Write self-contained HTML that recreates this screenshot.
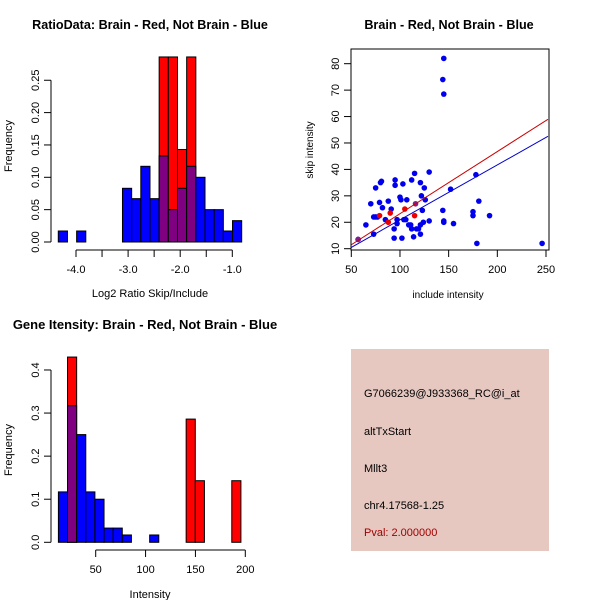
<!DOCTYPE html>
<html><head><meta charset="utf-8"><style>
body{margin:0;background:#fff}
svg{display:block;font-family:"Liberation Sans",sans-serif}
</style></head><body>
<svg id="s" width="600" height="600" xmlns="http://www.w3.org/2000/svg">
<rect x="0" y="0" width="600" height="600" fill="#fff"/>
<g id="p1"></g>
<g id="p2"></g>
<g id="p3"></g>
<g id="p4">
<rect x="351" y="349" width="198" height="202" fill="#e6c8c1"/>
<text x="364" y="397" font-size="11" fill="#000">G7066239@J933368_RC@i_at</text>
<text x="364" y="435" font-size="11" fill="#000">altTxStart</text>
<text x="364" y="472" font-size="11" fill="#000">Mllt3</text>
<text x="364" y="509" font-size="11" fill="#000">chr4.17568-1.25</text>
<text x="364" y="536" font-size="11" fill="#a00000">Pval: 2.000000</text>
</g>
</svg>
<script>
// ---- Panel 1 data ----
const ratioBinStart = -4.34;
const ratioBinWidth = 0.176;
const ratioBlue = [0.017,0,0.017,0,0,0,0,0.083,0.067,0.117,0.067,0.133,0.05,0.083,0.117,0.1,0.05,0.05,0.017,0.033];
const ratioRed  = [0,0,0,0,0,0,0,0,0,0,0,0.286,0.286,0.143,0.286,0,0,0,0,0];
const ratioXTicks = [-4,-3.5,-3,-2.5,-2,-1.5,-1];
const ratioXLabels = ["-4.0","","-3.0","","-2.0","","-1.0"];
const ratioYTicks = [0,0.05,0.10,0.15,0.20,0.25];
const ratioYLabels = ["0.00","0.05","0.10","0.15","0.20","0.25"];
// ---- Panel 2 data ----
const scatterBlueX = [145,144,145,57,65,70,73,73,75,75,77,79,80,81,82,85,88,91,94,94,95,95,97,97,100,101,102,103,104,106,107,109,111,112,112,114,115,117,119,121,121,121,122,123,124,125,126,130,130,144,145,145,152,155,175,175,178,179,181,192,246];
const scatterBlueY = [82,74,68.5,13.5,19,27,22,15.5,22,33,22,27.5,35,35.5,25.5,21,28,25,14,17.5,34,36,21,19.5,29.5,28.5,14,34.5,21,21,28.5,19,19,36,17.5,14.5,38.5,17.5,17.5,35,15.5,19,30,24.5,20,33,28.5,39,20.5,24.5,20.5,20,32.5,19.5,24,22.5,38,12,28,22.5,12];
const scatterRedX = [79,90,88,105,115,116,57];
const scatterRedY = [22.5,23.5,20,25,22.5,27,13.5];
const fitIntercepts = [-0.25,0.1]; // red, blue
const fitSlopes = [0.235,0.208];
const scatterXTicks = [50,100,150,200,250];
const scatterYTicks = [10,20,30,40,50,60,70,80];
// ---- Panel 3 data ----
const intBinStart = 12.6;
const intBinWidth = 9.15;
const intBlue = [0.117,0.317,0.25,0.117,0.1,0.033,0.033,0.017,0,0,0.017,0,0,0,0,0,0,0,0,0];
const intRed  = [0,0.43,0,0,0,0,0,0,0,0,0,0,0,0,0.286,0.143,0,0,0,0.143];
const intXTicks = [50,100,150,200];
const intYTicks = [0,0.1,0.2,0.3,0.4];
const intYLabels = ["0.0","0.1","0.2","0.3","0.4"];

const NS="http://www.w3.org/2000/svg";
function mk(parent,tag,attrs,txt){const e=document.createElementNS(NS,tag);for(const k in attrs)e.setAttribute(k,attrs[k]);if(txt!==undefined)e.textContent=txt;parent.appendChild(e);return e;}

function histogram(g, xs, ys, start, width, blue, red, name){
  for(let i=0;i<blue.length;i++){
    const b=blue[i], r=red[i];
    const x0=xs(start+i*width), x1=xs(start+(i+1)*width);
    const top=Math.max(b,r), low=Math.min(b,r);
    if(top<=0) continue;
    if(r>0 && b>0){
      let e=mk(g,'rect',{x:x0,y:ys(top),width:x1-x0,height:ys(0)-ys(top),fill:r>b?'#ff0000':'#0000ff',stroke:'#000','stroke-width':1});
      
      
      e=mk(g,'rect',{x:x0,y:ys(low),width:x1-x0,height:ys(0)-ys(low),fill:'#7f0080',stroke:'#000','stroke-width':1});
      
      
    } else {
      const e=mk(g,'rect',{x:x0,y:ys(top),width:x1-x0,height:ys(0)-ys(top),fill:r>0?'#ff0000':'#0000ff',stroke:'#000','stroke-width':1});
      
      
    }
  }
}
function yAxis(g,x,ys,ticks,labels,name){
  let e=mk(g,'line',{x1:x,x2:x,y1:ys(ticks[0]),y2:ys(ticks[ticks.length-1]),stroke:'#000'});
  
  
  ticks.forEach((t,i)=>{
    mk(g,'line',{x1:x-7,x2:x,y1:ys(t),y2:ys(t),stroke:'#000'});
    const tx=mk(g,'text',{x:x-12,y:ys(t),'font-size':11,'text-anchor':'middle',transform:`rotate(-90 ${x-12} ${ys(t)})`},labels[i]);
    
    
  });
}
function xAxis(g,y,xs,ticks,labels,name){
  let e=mk(g,'line',{x1:xs(ticks[0]),x2:xs(ticks[ticks.length-1]),y1:y,y2:y,stroke:'#000'});
  
  
  ticks.forEach((t,i)=>{
    mk(g,'line',{x1:xs(t),x2:xs(t),y1:y,y2:y+7,stroke:'#000'});
    if(labels[i]){const tx=mk(g,'text',{x:xs(t),y:y+23,'font-size':11,'text-anchor':'middle'},labels[i]);
    
    }
  });
}
function label(g,x,y,txt,opts,name){const e=mk(g,'text',Object.assign({x:x,y:y,'font-size':11,'text-anchor':'middle'},opts||{}),txt);
  
  return e;}

// Panel 1
{
  const g=document.getElementById('p1');
  const xs=v=>76+(v+4)*52.1, ys=v=>242-v*647;
  histogram(g,xs,ys,ratioBinStart,ratioBinWidth,ratioBlue,ratioRed,'ratio');
  yAxis(g,51,ys,ratioYTicks,ratioYLabels,'ratio');
  xAxis(g,250,xs,ratioXTicks,ratioXLabels,'ratio');
  label(g,150,29,'RatioData: Brain - Red, Not Brain - Blue',{'font-weight':'bold','font-size':12.6},'ratio-title');
  label(g,150,297,'Log2 Ratio Skip/Include',{},'ratio-x-title');
  label(g,12,146,'Frequency',{transform:'rotate(-90 12 146)'},'ratio-y-title');
}
// Panel 2
{
  const g=document.getElementById('p2');
  const xs=v=>351.3+(v-50)*0.9735, ys=v=>248.7-(v-10)*2.643;
  mk(g,'rect',{x:351,y:49,width:198,height:201,fill:'none',stroke:'#000'});
  scatterBlueX.forEach((x,i)=>{const c=mk(g,'circle',{cx:xs(x),cy:ys(scatterBlueY[i]),r:2.8,fill:'#0000ee'});
    
    });
  scatterRedX.forEach((x,i)=>{const c=mk(g,'circle',{cx:xs(x),cy:ys(scatterRedY[i]),r:2.8,fill:i>=5?'#7f2090':'#ee0000'});
    
    });
  const cols=['#cc0000','#0000cc'], nm=['red-fit-line','blue-fit-line'];
  fitSlopes.forEach((s,i)=>{
    const xa=50, xb=252;
    const l=mk(g,'line',{x1:xs(xa),y1:ys(fitIntercepts[i]+s*xa),x2:xs(xb),y2:ys(fitIntercepts[i]+s*xb),stroke:cols[i]});
    
    
  });
  scatterXTicks.forEach(t=>{mk(g,'line',{x1:xs(t),x2:xs(t),y1:250,y2:257,stroke:'#000'});
    label(g,xs(t),273,String(t),{},'scatter-x-tick-label');});
  scatterYTicks.forEach(t=>{mk(g,'line',{x1:344,x2:351,y1:ys(t),y2:ys(t),stroke:'#000'});
    label(g,339,ys(t),String(t),{transform:`rotate(-90 339 ${ys(t)})`},'scatter-y-tick-label');});
  label(g,449,29,'Brain - Red, Not Brain - Blue',{'font-weight':'bold','font-size':12.6},'scatter-title');
  label(g,448,298,'include intensity',{'font-size':10},'scatter-x-title');
  label(g,313,150,'skip intensity',{'font-size':10,transform:'rotate(-90 313 150)'},'scatter-y-title');
}
// Panel 3
{
  const g=document.getElementById('p3');
  const xs=v=>95.7+(v-50)*0.9973, ys=v=>542.3-v*430.8;
  histogram(g,xs,ys,intBinStart,intBinWidth,intBlue,intRed,'intensity');
  yAxis(g,51,ys,intYTicks,intYLabels,'intensity');
  xAxis(g,550,xs,intXTicks,intXTicks.map(String),'intensity');
  label(g,145,329,'Gene Itensity: Brain - Red, Not Brain - Blue',{'font-weight':'bold','font-size':13},'intensity-title');
  label(g,150,598,'Intensity',{},'intensity-x-title');
  label(g,12,450,'Frequency',{transform:'rotate(-90 12 450)'},'intensity-y-title');
}
</script>
</body></html>
